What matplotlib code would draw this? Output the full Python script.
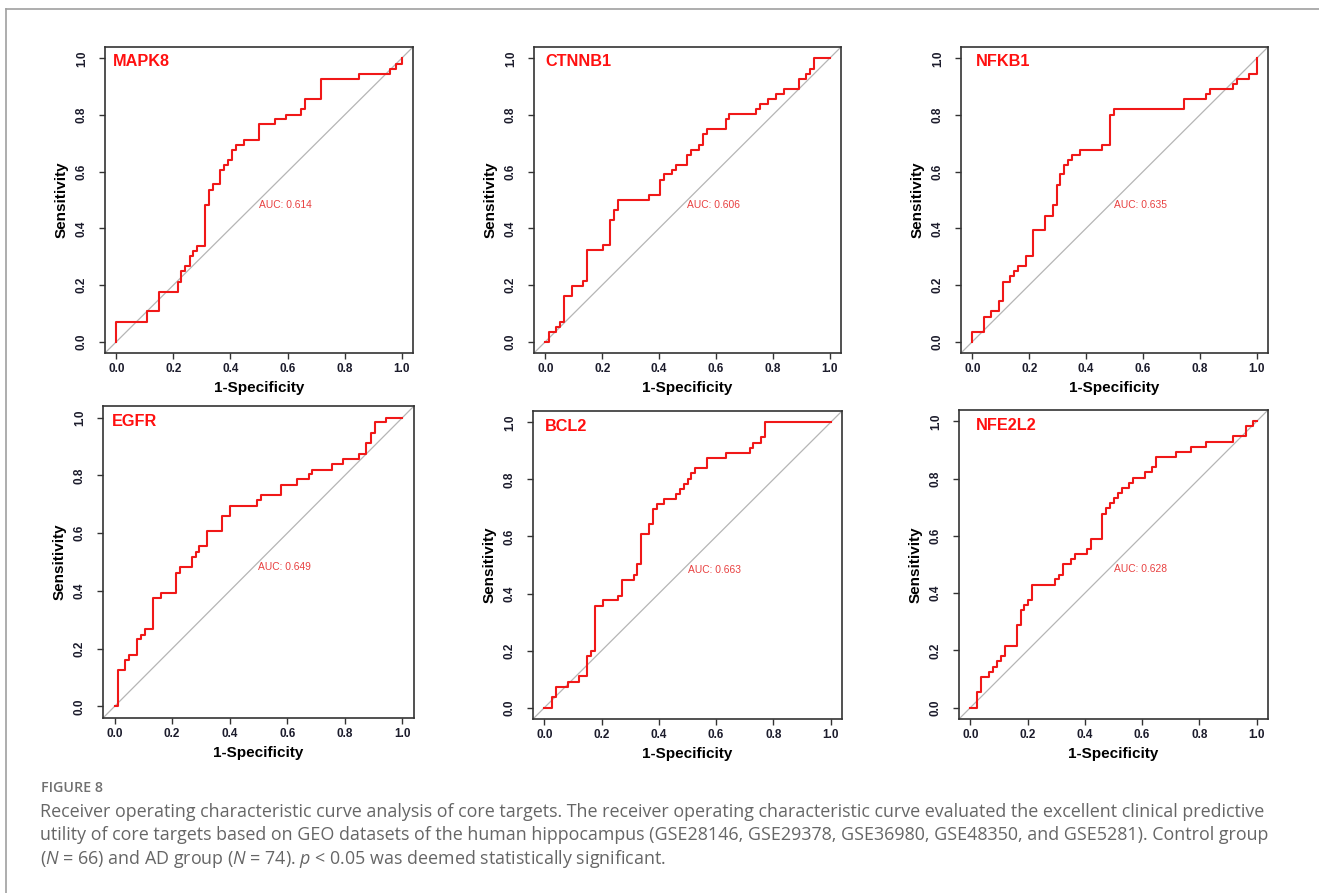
import matplotlib.pyplot as plt
from matplotlib.lines import Line2D

plt.rcParams['font.family'] = ['Liberation Sans', 'DejaVu Sans']
plt.rcParams['mathtext.fontset'] = 'custom'
plt.rcParams['mathtext.rm'] = 'Open Sans'
plt.rcParams['mathtext.it'] = 'Open Sans:italic'

genes = ["MAPK8", "CTNNB1", "NFKB1", "EGFR", "BCL2", "NFE2L2"]
auc = [0.614, 0.606, 0.635, 0.649, 0.663, 0.628]

# ROC staircase: x where the curve steps up, and the sensitivity after the step
mapk8_fpr = [0, 0, 0.108, 0.149, 0.216, 0.228, 0.242, 0.257, 0.269, 0.283, 0.31, 0.324,
             0.337, 0.363, 0.377, 0.392, 0.406, 0.419, 0.447, 0.501, 0.556, 0.594, 0.649,
             0.663, 0.716, 0.851, 0.959, 0.982, 1.0]
mapk8_tpr = [0, 0.070, 0.107, 0.177, 0.212, 0.25, 0.267, 0.302, 0.32, 0.338, 0.481, 0.535,
             0.555, 0.605, 0.625, 0.642, 0.678, 0.695, 0.713, 0.768, 0.785, 0.80, 0.821,
             0.857, 0.927, 0.945, 0.962, 0.979, 1.0]

ctnnb1_fpr = [0, 0.012, 0.036, 0.051, 0.066, 0.094, 0.133, 0.147, 0.201, 0.229, 0.242, 0.256,
              0.364, 0.403, 0.417, 0.444, 0.458, 0.499, 0.512, 0.541, 0.553, 0.568, 0.635,
              0.647, 0.741, 0.756, 0.783, 0.811, 0.838, 0.891, 0.918, 0.932, 0.946, 1.0]
ctnnb1_tpr = [0, 0.035, 0.053, 0.07, 0.162, 0.197, 0.215, 0.322, 0.34, 0.429, 0.464, 0.5,
              0.518, 0.571, 0.59, 0.607, 0.625, 0.66, 0.678, 0.695, 0.732, 0.75, 0.785,
              0.803, 0.821, 0.838, 0.856, 0.873, 0.892, 0.927, 0.945, 0.962, 1.0, 1.0]

nfkb1_fpr = [0, 0, 0.041, 0.065, 0.094, 0.109, 0.132, 0.146, 0.161, 0.187, 0.214, 0.255,
             0.282, 0.296, 0.31, 0.323, 0.337, 0.351, 0.378, 0.457, 0.485, 0.498, 0.743,
             0.822, 0.836, 0.916, 0.931, 0.972, 1.0]
nfkb1_tpr = [0, 0.035, 0.088, 0.107, 0.142, 0.212, 0.232, 0.25, 0.267, 0.302, 0.393, 0.445,
             0.481, 0.552, 0.59, 0.625, 0.642, 0.66, 0.678, 0.695, 0.80, 0.821, 0.857,
             0.873, 0.892, 0.91, 0.927, 0.945, 1.0]

egfr_fpr = [0, 0.012, 0.038, 0.052, 0.079, 0.093, 0.107, 0.133, 0.16, 0.214, 0.228, 0.269,
            0.282, 0.295, 0.322, 0.374, 0.402, 0.496, 0.51, 0.577, 0.632, 0.674, 0.687,
            0.756, 0.794, 0.848, 0.875, 0.889, 0.904, 0.944, 1.0]
egfr_tpr = [0, 0.125, 0.16, 0.177, 0.232, 0.249, 0.268, 0.374, 0.392, 0.463, 0.482, 0.519,
            0.536, 0.554, 0.606, 0.66, 0.695, 0.714, 0.731, 0.768, 0.786, 0.803, 0.82,
            0.838, 0.855, 0.875, 0.911, 0.948, 0.983, 1.0, 1.0]

bcl2_fpr = [0, 0.026, 0.04, 0.081, 0.121, 0.148, 0.162, 0.175, 0.203, 0.256, 0.271, 0.312,
            0.323, 0.337, 0.364, 0.378, 0.393, 0.419, 0.46, 0.473, 0.487, 0.501, 0.513,
            0.527, 0.568, 0.635, 0.718, 0.729, 0.757, 0.77, 1.0]
bcl2_tpr = [0, 0.038, 0.073, 0.091, 0.11, 0.18, 0.198, 0.357, 0.376, 0.393, 0.448, 0.465,
            0.502, 0.608, 0.643, 0.698, 0.715, 0.733, 0.75, 0.767, 0.785, 0.802, 0.822,
            0.84, 0.874, 0.893, 0.91, 0.928, 0.948, 1.0, 1.0]

nfe2l2_fpr = [0, 0.024, 0.038, 0.065, 0.079, 0.093, 0.106, 0.12, 0.161, 0.175, 0.188, 0.202,
              0.216, 0.297, 0.31, 0.324, 0.351, 0.365, 0.406, 0.42, 0.46, 0.473, 0.487,
              0.501, 0.514, 0.528, 0.555, 0.569, 0.61, 0.636, 0.648, 0.717, 0.77, 0.825,
              0.918, 0.962, 0.986, 1.0]
nfe2l2_tpr = [0, 0.055, 0.108, 0.126, 0.143, 0.163, 0.18, 0.215, 0.287, 0.341, 0.357, 0.376,
              0.43, 0.448, 0.465, 0.502, 0.52, 0.537, 0.555, 0.59, 0.678, 0.698, 0.715,
              0.733, 0.75, 0.767, 0.785, 0.802, 0.822, 0.84, 0.874, 0.893, 0.91, 0.928,
              0.948, 0.983, 1.0, 1.0]

fprs = [mapk8_fpr, ctnnb1_fpr, nfkb1_fpr, egfr_fpr, bcl2_fpr, nfe2l2_fpr]
tprs = [mapk8_tpr, ctnnb1_tpr, nfkb1_tpr, egfr_tpr, bcl2_tpr, nfe2l2_tpr]

caption_head = "FIGURE 8"
caption_lines = [
    "Receiver operating characteristic curve analysis of core targets. The receiver operating characteristic curve evaluated the excellent clinical predictive",
    "utility of core targets based on GEO datasets of the human hippocampus (GSE28146, GSE29378, GSE36980, GSE48350, and GSE5281). Control group",
    "($\\mathit{N}$ = 66) and AD group ($\\mathit{N}$ = 74). $\\mathit{p}$ < 0.05 was deemed statistically significant.",
]

# axes rectangles in pixels: left, top, right, bottom
W, H = 1319, 893
boxes = [(105, 47, 413, 353), (534, 47, 841, 353), (961, 47, 1268, 353),
         (103, 406, 414, 718), (533, 411, 842, 719), (959, 410, 1268, 719)]
title_x = [0.026, 0.036, 0.048, 0.03, 0.039, 0.054]

fig = plt.figure(figsize=(W / 100, H / 100), dpi=100)

for i, gene in enumerate(genes):
    l, t, r, b = boxes[i]
    ax = fig.add_axes([l / W, 1 - b / H, (r - l) / W, (b - t) / H])
    ax.axline((0, 0), (1, 1), color="#b5b5b5", lw=0.9, zorder=1)
    ax.plot(fprs[i], tprs[i], drawstyle="steps-post", color="#f01818", lw=1.5, zorder=2)
    ax.set_xlim(-0.04, 1.04)
    ax.set_ylim(-0.04, 1.04)
    ticks = [0, 0.2, 0.4, 0.6, 0.8, 1.0]
    ax.set_xticks(ticks)
    ax.set_yticks(ticks)
    ax.set_xticklabels(["%.1f" % v for v in ticks], fontweight="bold", fontsize=8.5)
    ax.set_yticklabels(["%.1f" % v for v in ticks], fontweight="bold", fontsize=8.5,
                       rotation=90, va="center")
    ax.tick_params(axis="x", length=4.3, width=1, color="#333333", pad=3.2, labelcolor="#1c1c2c")
    ax.tick_params(axis="y", length=4.3, width=1, color="#333333", pad=8, labelcolor="#1c1c2c")
    for s in ax.spines.values():
        s.set_linewidth(1.2)
        s.set_color("#333333")
    ax.set_xlabel("1-Specificity", fontsize=11, fontweight="bold", labelpad=4)
    ax.set_ylabel("Sensitivity", fontsize=11, fontweight="bold", labelpad=5)
    ax.text(title_x[i], 0.951, gene, transform=ax.transAxes, color="#ff1010",
            fontsize=11.7, fontweight="bold", ha="left", va="center")
    ax.text(0.5, 0.5, "AUC: %.3f" % auc[i], color="#e84040", fontsize=7.4,
            ha="left", va="top")

# page frame lines
fig.add_artist(Line2D([6 / W, 1], [1 - 9 / H, 1 - 9 / H], color="#a0a0a0", lw=1.2))
fig.add_artist(Line2D([6 / W, 6 / W], [0, 1 - 9 / H], color="#a0a0a0", lw=1.2))

fig.text(41 / W, 1 - 788 / H, caption_head, fontsize=10.3, color="#707070",
         family="Open Sans", fontweight="semibold", va="center")
for k, line in enumerate(caption_lines):
    fig.text(40 / W, 1 - (812 + 23.3 * k) / H, line, fontsize=12.9, color="#666666",
             family="Open Sans", va="center")

fig.savefig("out.png", dpi=100)
